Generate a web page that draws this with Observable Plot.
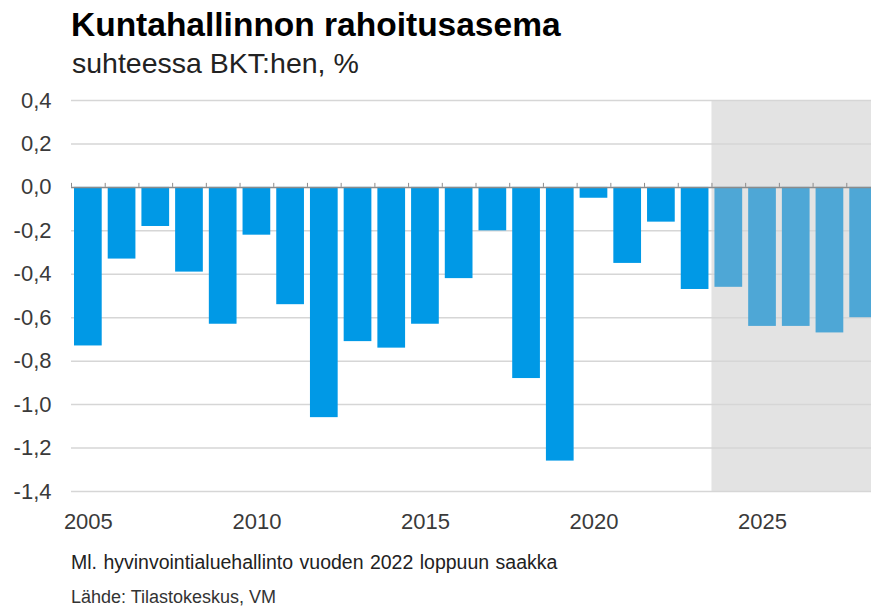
<!DOCTYPE html>
<html>
<head>
<meta charset="utf-8">
<script src="https://cdn.jsdelivr.net/npm/d3@7"></script>
<script src="https://cdn.jsdelivr.net/npm/@observablehq/plot@0.6"></script>
<style>
  html, body { margin: 0; padding: 0; background: #fff; }
  #wrap { position: relative; width: 871px; height: 612px; overflow: hidden; font-family: "Liberation Sans", Arial, sans-serif; }
  .t { position: absolute; white-space: pre; line-height: 1; }
  #title { left: 71px; top: 8px; font-size: 33.5px; font-weight: bold; color: #000; }
  #subtitle { left: 72px; top: 49px; font-size: 28.5px; color: #222; }
  #chart { position: absolute; left: 0; top: 80px; width: 880px; }
  #chart svg { max-width: none !important; }
  #note { left: 71px; top: 553px; font-size: 19.5px; color: #222; word-spacing: 1px; }
  #source { left: 71px; top: 588px; font-size: 18px; color: #333; }
</style>
</head>
<body>
<div id="wrap">
  <div class="t" id="title">Kuntahallinnon rahoitusasema</div>
  <div class="t" id="subtitle">suhteessa BKT:hen, %</div>
  <div id="chart"></div>
  <div class="t" id="note">Ml. hyvinvointialuehallinto vuoden 2022 loppuun saakka</div>
  <div class="t" id="source">Lähde: Tilastokeskus, VM</div>
</div>
<script>
const years = [2005, 2006, 2007, 2008, 2009, 2010, 2011, 2012, 2013, 2014, 2015, 2016,
               2017, 2018, 2019, 2020, 2021, 2022, 2023, 2024, 2025, 2026, 2027, 2028];
const values = [-0.73, -0.33, -0.18, -0.39, -0.63, -0.22, -0.54, -1.06, -0.71, -0.74, -0.63, -0.42,
                -0.20, -0.88, -1.26, -0.05, -0.35, -0.16, -0.47, -0.46, -0.64, -0.64, -0.67, -0.60];
const firstForecastYear = 2024;
const yTicks = [0.4, 0.2, 0.0, -0.2, -0.4, -0.6, -0.8, -1.0, -1.2, -1.4];
const xTicks = [2005, 2010, 2015, 2020, 2025];

const data = years.map((year, i) => ({year, value: values[i], forecast: year >= firstForecastYear}));
const forecastYears = years.filter(y => y >= firstForecastYear);
const boundaries = years.map(y => y - 0.5);
const yMin = d3.min(yTicks), yMax = d3.max(yTicks);
const fmt = d => d3.format(".1f")(d).replace(".", ",").replace("−", "-");

const chart = Plot.plot({
  width: 880,
  height: 456,
  marginTop: 20,
  marginBottom: 45,
  marginLeft: 71,
  marginRight: 0,
  style: {fontFamily: "'Liberation Sans', Arial, sans-serif", fontSize: "22px", color: "#3a3a3a", background: "transparent", overflow: "visible", maxWidth: "none"},
  x: {type: "linear", domain: [d3.min(years) - 0.5, d3.max(years) + 0.5]},
  y: {domain: [yMin, yMax]},
  marks: [
    Plot.rectY([forecastYears], {x1: d => d3.min(d) - 0.5, x2: d => d3.max(d) + 0.5, y1: () => yMin, y2: () => yMax, fill: "#e3e3e3"}),
    Plot.ruleY(yTicks.filter(d => d !== 0), {stroke: "#d6d6d6", strokeWidth: 1.5}),
    Plot.rectY(data, {x1: d => d.year - 0.5, x2: d => d.year + 0.5, y: "value",
      fill: d => d.forecast ? "#4ea7d6" : "#0099e6", insetLeft: 3, insetRight: 3}),
    Plot.ruleY([0], {stroke: "#8c8c8c", strokeWidth: 1.5}),
    Plot.ruleX(boundaries, {y1: () => 0, y2: () => 0, insetTop: -4, stroke: "#8c8c8c", strokeWidth: 1}),
    Plot.axisY({ticks: yTicks, tickSize: 0, tickPadding: 20, tickFormat: fmt, fontSize: 22, label: null}),
    Plot.axisX({ticks: xTicks, tickSize: 0, tickPadding: 22, tickFormat: d => String(d), fontSize: 22, label: null})
  ]
});
document.getElementById("chart").appendChild(chart);
</script>
</body>
</html>
